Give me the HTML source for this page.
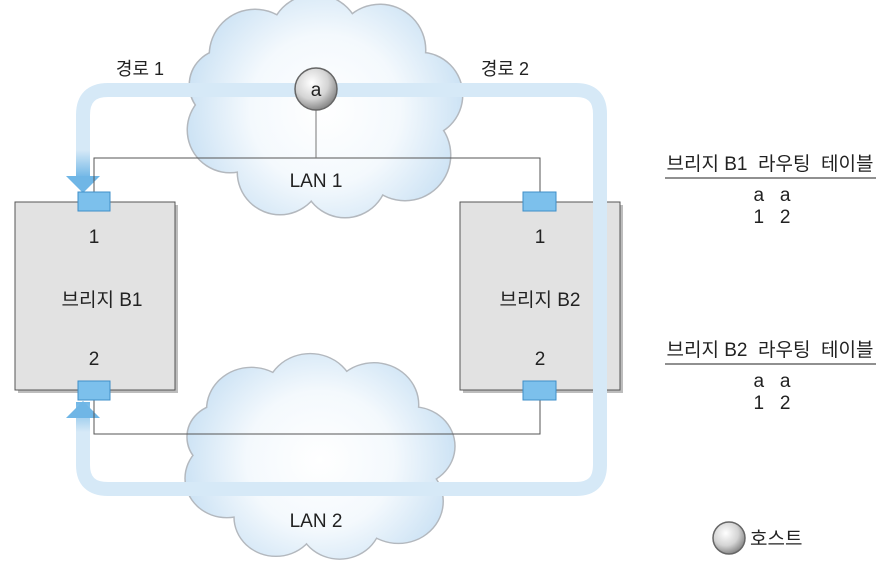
<!DOCTYPE html>
<html><head><meta charset="utf-8"><style>
body{margin:0;background:#fff}
svg text{font-family:"Liberation Sans","Noto Sans CJK KR",sans-serif;fill:#222;white-space:pre}
</style></head><body>
<svg width="886" height="568" viewBox="0 0 886 568" xmlns="http://www.w3.org/2000/svg">
<defs>
<radialGradient id="cg" gradientUnits="userSpaceOnUse" cx="0" cy="0" r="150"><stop offset="0" stop-color="#ffffff"/><stop offset="0.5" stop-color="#f4f9fd"/><stop offset="1" stop-color="#c6dff3"/></radialGradient>
<radialGradient id="hg" cx="40%" cy="35%" r="65%"><stop offset="0" stop-color="#ffffff"/><stop offset="0.6" stop-color="#d4d4d4"/><stop offset="1" stop-color="#8a8a8a"/></radialGradient>
<linearGradient id="ad" x1="0" y1="0" x2="0" y2="1"><stop offset="0" stop-color="#d6e9f7"/><stop offset="1" stop-color="#6fb6e6"/></linearGradient>
<linearGradient id="au" x1="0" y1="1" x2="0" y2="0"><stop offset="0" stop-color="#d6e9f7"/><stop offset="1" stop-color="#6fb6e6"/></linearGradient>
<g id="cloud">
<circle cx="-70" cy="-55" r="45"/><circle cx="-10" cy="-70" r="45"/><circle cx="55" cy="-60" r="45"/><circle cx="95" cy="-15" r="42"/><circle cx="80" cy="45" r="45"/><circle cx="20" cy="65" r="42"/><circle cx="-45" cy="62" r="42"/><circle cx="-95" cy="20" r="42"/><circle cx="-100" cy="-25" r="35"/><ellipse cx="0" cy="0" rx="100" ry="75"/>
</g>
</defs>
<!-- clouds -->
<g transform="translate(325,110)"><use href="#cloud" fill="none" stroke="#b3b8be" stroke-width="3"/><use href="#cloud" fill="url(#cg)"/></g>
<g transform="translate(320,460) scale(0.98,0.92)"><use href="#cloud" fill="none" stroke="#b3b8be" stroke-width="3"/><use href="#cloud" fill="url(#cg)"/></g>
<!-- boxes -->
<rect x="18" y="205" width="160" height="188" fill="#bdbdbd"/>
<rect x="15" y="202" width="160" height="188" fill="#e2e2e2" stroke="#555" stroke-width="1"/>
<rect x="463" y="205" width="160" height="188" fill="#bdbdbd"/>
<rect x="460" y="202" width="160" height="188" fill="#e2e2e2" stroke="#555" stroke-width="1"/>
<!-- path band -->
<path d="M83 178 V115 Q83 90 108 90 H576 Q600 90 600 114 V465 Q600 489 576 489 H108 Q83 489 83 465 V418" fill="none" stroke="#d6e9f7" stroke-width="14"/>
<rect x="76" y="150" width="14" height="28" fill="url(#ad)"/>
<polygon points="66,176 100,176 83,193" fill="#6fb6e6"/>
<rect x="76" y="402" width="14" height="30" fill="url(#au)"/>
<polygon points="66,418 100,418 83,401" fill="#6fb6e6"/>
<!-- LAN lines -->
<path d="M94 193 V158 H540 V193" fill="none" stroke="#555" stroke-width="1"/>
<line x1="316" y1="110" x2="316" y2="158" stroke="#777" stroke-width="1"/>
<path d="M94 400 V434 H540 V400" fill="none" stroke="#555" stroke-width="1"/>
<!-- ports -->
<rect x="78" y="192" width="32" height="19" fill="#7cc0ec" stroke="#3f8fc8"/>
<rect x="78" y="381" width="32" height="19" fill="#7cc0ec" stroke="#3f8fc8"/>
<rect x="523" y="192" width="33" height="19" fill="#7cc0ec" stroke="#3f8fc8"/>
<rect x="523" y="381" width="33" height="19" fill="#7cc0ec" stroke="#3f8fc8"/>
<!-- host -->
<circle cx="316" cy="89" r="21" fill="url(#hg)" stroke="#666" stroke-width="1.5"/>
<text x="316" y="96" font-size="19" text-anchor="middle">a</text>
<!-- labels -->
<text x="140" y="75" font-size="18" text-anchor="middle">경로 1</text>
<text x="505" y="75" font-size="18" text-anchor="middle">경로 2</text>
<text x="316" y="187" font-size="19" text-anchor="middle">LAN 1</text>
<text x="316" y="527" font-size="19" text-anchor="middle">LAN 2</text>
<text x="94" y="243" font-size="19" text-anchor="middle">1</text>
<text x="102" y="306" font-size="19" text-anchor="middle">브리지 B1</text>
<text x="94" y="365" font-size="19" text-anchor="middle">2</text>
<text x="540" y="243" font-size="19" text-anchor="middle">1</text>
<text x="540" y="306" font-size="19" text-anchor="middle">브리지 B2</text>
<text x="540" y="365" font-size="19" text-anchor="middle">2</text>
<!-- tables -->
<text x="770" y="170" font-size="19" text-anchor="middle">브리지 B1  라우팅  테이블</text>
<line x1="665" y1="178" x2="876" y2="178" stroke="#222"/>
<text x="772" y="201" font-size="19" text-anchor="middle">a   a</text>
<text x="772" y="223" font-size="19" text-anchor="middle">1   2</text>
<text x="770" y="356" font-size="19" text-anchor="middle">브리지 B2  라우팅  테이블</text>
<line x1="665" y1="364" x2="876" y2="364" stroke="#222"/>
<text x="772" y="387" font-size="19" text-anchor="middle">a   a</text>
<text x="772" y="409" font-size="19" text-anchor="middle">1   2</text>
<!-- legend -->
<circle cx="729" cy="538" r="16" fill="url(#hg)" stroke="#666" stroke-width="1.5"/>
<text x="750" y="545" font-size="19">호스트</text>
</svg>
</body></html>
